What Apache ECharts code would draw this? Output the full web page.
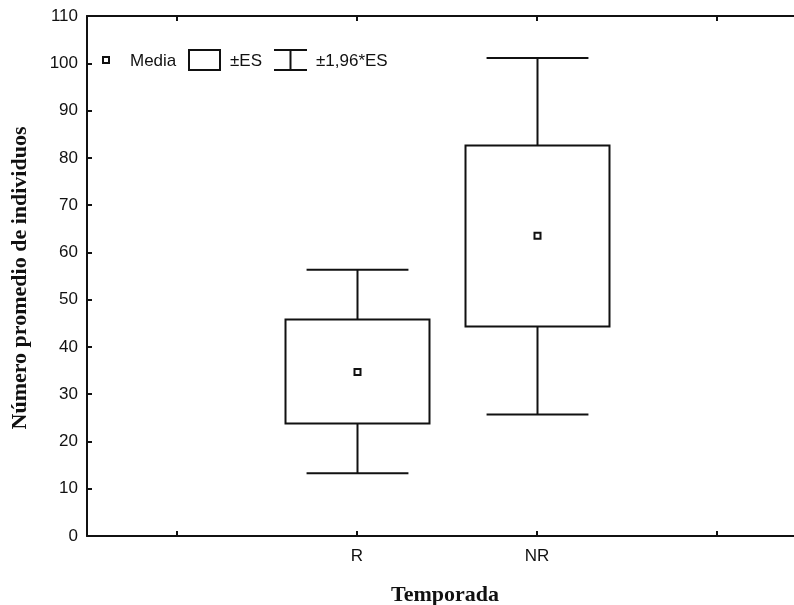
<!DOCTYPE html>
<html>
<head>
<meta charset="utf-8">
<script src="https://cdn.jsdelivr.net/npm/echarts@6/dist/echarts.min.js"></script>
<style>html,body{margin:0;padding:0;background:#fff;}#c{width:794px;height:605px;}</style>
</head>
<body>
<div id="c"></div>
<script>
// ---- data ----
var categories = ['R', 'NR'];
var catPositions = [2, 3];
var means = [34.7, 63.5];
var seLow = [23.8, 44.3];
var seHigh = [45.8, 82.6];
var ciLow = [13.3, 25.7];
var ciHigh = [56.3, 101.1];
var yTicks = [0, 10, 20, 30, 40, 50, 60, 70, 80, 90, 100, 110];
var xTickPositions = [1, 2, 3, 4];
var legendLabels = ['Media', '±ES', '±1,96*ES'];
var xTitle = 'Temporada';
var yTitle = 'Número promedio de individuos';

var INK = '#111';
var sans = "'Liberation Sans', Arial, sans-serif";
var serif = "'Liberation Serif', 'Times New Roman', serif";

var seriesData = categories.map(function (c, i) {
  return [catPositions[i], means[i], seLow[i], seHigh[i], ciLow[i], ciHigh[i]];
});

var chart = echarts.init(document.getElementById('c'), null, {renderer: 'canvas'});

function renderItem(params, api) {
  var x = api.value(0);
  var m = api.value(1), sl = api.value(2), sh = api.value(3), cl = api.value(4), ch = api.value(5);
  var boxHalf = api.size([0.4, 0])[0];
  var capHalf = api.size([0.283, 0])[0];
  var pM = api.coord([x, m]);
  var pSL = api.coord([x, sl]);
  var pSH = api.coord([x, sh]);
  var pCL = api.coord([x, cl]);
  var pCH = api.coord([x, ch]);
  var cx = Math.round(pM[0]) + 0.5;
  var st = {stroke: INK, lineWidth: 2, fill: null};
  return {
    type: 'group',
    children: [
      {type: 'line', shape: {x1: cx, y1: pCH[1], x2: cx, y2: pSH[1]}, style: st},
      {type: 'line', shape: {x1: cx, y1: pSL[1], x2: cx, y2: pCL[1]}, style: st},
      {type: 'line', shape: {x1: cx - capHalf, y1: pCH[1], x2: cx + capHalf, y2: pCH[1]}, style: st},
      {type: 'line', shape: {x1: cx - capHalf, y1: pCL[1], x2: cx + capHalf, y2: pCL[1]}, style: st},
      {type: 'rect', shape: {x: cx - boxHalf, y: pSH[1], width: boxHalf * 2, height: pSL[1] - pSH[1]},
        style: {stroke: INK, lineWidth: 2, fill: '#fff'}},
      {type: 'rect', shape: {x: cx - 3, y: pM[1] - 3, width: 6, height: 6},
        style: {stroke: INK, lineWidth: 2, fill: '#fff'}}
    ]
  };
}

var xMin = 0.5, xMax = 4.428;

var option = {
  animation: false,
  backgroundColor: '#fff',
  grid: {left: 87, right: 0, top: 16, bottom: 69, containLabel: false},
  xAxis: [{
    type: 'value', min: xMin, max: xMax, position: 'bottom',
    axisLine: {show: true, lineStyle: {color: INK, width: 2}},
    axisTick: {show: true, inside: true, length: 5, lineStyle: {color: INK, width: 2}, customValues: xTickPositions},
    axisLabel: {show: true, customValues: catPositions, margin: 12, color: INK, fontFamily: sans, fontSize: 17,
      formatter: function (v) { var i = catPositions.indexOf(v); return i >= 0 ? categories[i] : ''; }},
    splitLine: {show: false}
  }, {
    type: 'value', min: xMin, max: xMax, position: 'top',
    axisLine: {show: true, lineStyle: {color: INK, width: 2}},
    axisTick: {show: true, inside: true, length: 5, lineStyle: {color: INK, width: 2}, customValues: xTickPositions},
    axisLabel: {show: false},
    splitLine: {show: false}
  }],
  yAxis: {
    type: 'value', min: 0, max: 110, interval: 10,
    axisLine: {show: true, lineStyle: {color: INK, width: 2}},
    axisTick: {show: true, inside: true, length: 5, lineStyle: {color: INK, width: 2}},
    axisLabel: {color: INK, fontFamily: sans, fontSize: 17, margin: 9,
      formatter: function (v) { return yTicks.indexOf(v) >= 0 ? String(v) : ''; }},
    splitLine: {show: false}
  },
  series: [{
    type: 'custom',
    renderItem: renderItem,
    encode: {x: 0, y: [1, 2, 3, 4, 5]},
    data: seriesData,
    clip: false
  }],
  graphic: [
    {type: 'rect', shape: {x: 103, y: 57, width: 6, height: 6}, style: {stroke: INK, lineWidth: 2, fill: '#fff'}},
    {type: 'text', x: 130, y: 61, style: {text: legendLabels[0], font: '17px ' + sans, fill: INK, textVerticalAlign: 'middle'}},
    {type: 'rect', shape: {x: 189, y: 50, width: 31, height: 20}, style: {stroke: INK, lineWidth: 2, fill: '#fff'}},
    {type: 'text', x: 230, y: 61, style: {text: legendLabels[1], font: '17px ' + sans, fill: INK, textVerticalAlign: 'middle'}},
    {type: 'line', shape: {x1: 274, y1: 50, x2: 307, y2: 50}, style: {stroke: INK, lineWidth: 2}},
    {type: 'line', shape: {x1: 290.5, y1: 50, x2: 290.5, y2: 70}, style: {stroke: INK, lineWidth: 2}},
    {type: 'line', shape: {x1: 274, y1: 70, x2: 307, y2: 70}, style: {stroke: INK, lineWidth: 2}},
    {type: 'text', x: 316, y: 61, style: {text: legendLabels[2], font: '17px ' + sans, fill: INK, textVerticalAlign: 'middle'}},
    {type: 'text', x: 445, y: 595, style: {text: xTitle, font: 'bold 22px ' + serif, fill: INK, textAlign: 'center', textVerticalAlign: 'middle'}},
    {type: 'text', x: 20, y: 278, rotation: Math.PI / 2, style: {text: yTitle, font: 'bold 22px ' + serif, fill: INK, textAlign: 'center', textVerticalAlign: 'middle'}}
  ]
};
chart.setOption(option);
</script>
</body>
</html>
